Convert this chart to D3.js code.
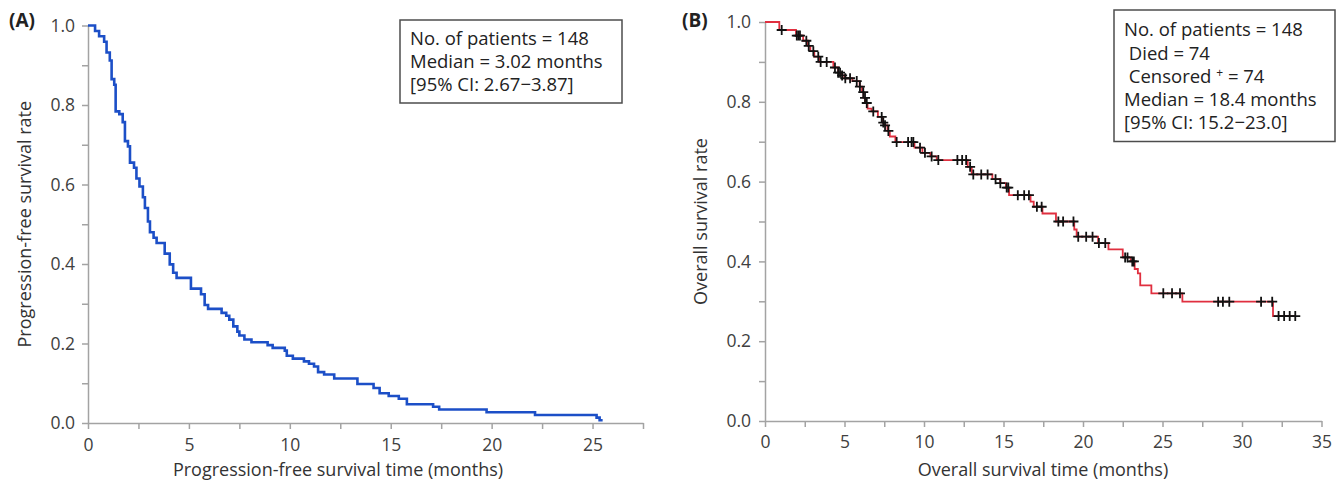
<!DOCTYPE html>
<html>
<head>
<meta charset="utf-8">
<script src="https://d3js.org/d3.v7.min.js"></script>
<style>
  body { margin: 0; background: #fff; }
  svg text { font-family: "Open Sans", "Noto Sans", sans-serif; }
</style>
</head>
<body>
<script>
'use strict';

// (A) progression-free survival: step times (months) and survival after each step
const pfsTimes = [0, 0.35, 0.55, 0.8, 0.92, 1.08, 1.17, 1.3, 1.37, 1.55, 1.72, 1.83, 1.98, 2.08, 2.28,
  2.4, 2.55, 2.72, 2.82, 2.97, 3.07, 3.25, 3.4, 3.8, 4.05, 4.22, 4.39, 5.1, 5.6, 5.78,
  5.95, 6.62, 6.85, 7.0, 7.2, 7.4, 7.5, 7.75, 8.1, 8.9, 9.15, 9.75, 9.85, 10.15, 10.7,
  10.95, 11.2, 11.4, 11.7, 12.2, 13.35, 14.15, 14.45, 14.9, 15.4, 15.8, 17.1, 17.4, 19.75, 22.15,
  25.2, 25.35, 25.5];
const pfsSurvival = [1.0, 0.986, 0.973, 0.959, 0.932, 0.912, 0.865, 0.851, 0.784, 0.777, 0.757, 0.709, 0.696, 0.655, 0.642,
  0.615, 0.595, 0.568, 0.541, 0.507, 0.48, 0.466, 0.453, 0.426, 0.399, 0.378, 0.365, 0.338, 0.324, 0.297,
  0.287, 0.277, 0.27, 0.26, 0.243, 0.23, 0.22, 0.21, 0.203, 0.196, 0.189, 0.182, 0.169, 0.162, 0.155,
  0.149, 0.142, 0.128, 0.122, 0.112, 0.098, 0.088, 0.075, 0.068, 0.061, 0.047, 0.041, 0.034, 0.027, 0.02,
  0.0135, 0.007, 0.007];

// (B) overall survival
const osTimes = [0, 0.9, 1.95, 2.4, 2.7, 2.85, 3.1, 3.4, 4.3, 4.6, 4.8, 5.0, 5.5, 5.95, 6.1,
  6.2, 6.3, 6.45, 6.7, 7.1, 7.4, 7.5, 7.7, 7.85, 8.2, 9.4, 9.9, 10.4, 10.8, 12.75,
  13.0, 14.3, 14.8, 15.15, 15.35, 16.7, 16.9, 17.45, 18.3, 19.45, 19.6, 20.95, 21.6, 22.5, 23.0,
  23.25, 23.45, 23.6, 24.3, 26.25, 31.95, 33.4];
const osSurvival = [1.0, 0.98, 0.966, 0.953, 0.94, 0.927, 0.913, 0.9, 0.886, 0.873, 0.866, 0.859, 0.852, 0.838, 0.824,
  0.81, 0.797, 0.783, 0.776, 0.762, 0.748, 0.741, 0.727, 0.713, 0.699, 0.685, 0.672, 0.663, 0.654, 0.637,
  0.618, 0.606, 0.596, 0.585, 0.566, 0.55, 0.537, 0.52, 0.5, 0.48, 0.462, 0.446, 0.43, 0.41, 0.4,
  0.381, 0.37, 0.34, 0.32, 0.299, 0.263, 0.263];
// censored patients (months)
const osCensorTimes = [1.05, 2.0, 2.1, 2.2, 2.6, 2.75, 3.04, 3.35, 3.5, 3.88, 4.4, 4.6, 4.72, 4.85, 5.05,
  5.35, 5.77, 5.97, 6.18, 6.29, 6.4, 6.81, 7.34, 7.44, 7.55, 7.76, 8.28, 9.0, 9.22, 9.33,
  9.75, 10.06, 10.48, 10.9, 12.1, 12.4, 12.65, 12.9, 13.1, 13.6, 14.0, 14.5, 14.8, 15.2, 15.3,
  15.9, 16.3, 16.6, 17.1, 17.4, 18.45, 18.75, 19.4, 19.7, 20.2, 20.6, 21.0, 21.4, 22.65, 22.8,
  23.1, 23.2, 25.05, 25.6, 26.1, 28.5, 28.8, 29.2, 31.2, 31.9, 32.3, 32.65, 33.0, 33.35];

// tick labels
const pfsXLabels = [0, 5, 10, 15, 20, 25];
const osXLabels = [0, 5, 10, 15, 20, 25, 30, 35];
const yLabels = ['0.0', '0.2', '0.4', '0.6', '0.8', '1.0'];

// legend text
const pfsLegend = ['No. of patients = 148', 'Median = 3.02 months', '[95% CI: 2.67\u22123.87]'];
const osLegend = ['No. of patients = 148', ' Died = 74', ' Censored \u207A = 74', 'Median = 18.4 months', '[95% CI: 15.2\u221223.0]'];

(function() {

  let svgContainer = '';
  const axisColor = '#a3a3a3';

  window.onload = function() {
    svgContainer = d3.select('body')
      .append('svg')
      .attr('width', 1344)
      .attr('height', 481);

    // panel A
    const xA = d3.scaleLinear().domain([0, 27.5]).range([88, 643]);
    const yA = d3.scaleLinear().domain([0, 1]).range([423, 25.5]);
    drawAxes(xA, yA, pfsXLabels, 10, 7);
    plotCurve(xA, yA, pfsTimes, pfsSurvival, '#1c4fc7', 2.6);
    makeLegend(pfsLegend, 400, 20, 222, 83, 410, 44.5);
    makeLabels(xA, yA, '(A)', 9, 'Progression-free survival rate', 31,
      'Progression-free survival time (months)', 338);

    // panel B
    const xB = d3.scaleLinear().domain([0, 35]).range([765, 1321.5]);
    const yB = d3.scaleLinear().domain([0, 1]).range([421, 22]);
    drawAxes(xB, yB, osXLabels, 9, 8);
    plotCurve(xB, yB, osTimes, osSurvival, '#e02f3f', 1.8);
    plotCensors(xB, yB);
    makeLegend(osLegend, 1114, 10, 221, 131.5, 1124, 36.2);
    makeLabels(xB, yB, '(B)', 682, 'Overall survival rate', 707,
      'Overall survival time (months)', 1043);
  }

  // axes with minor ticks at 2.5 months and 0.1
  function drawAxes(x, y, xLabels, xPad, yPad) {
    const xTicks = d3.range(0, x.domain()[1] + 0.01, 2.5);
    const xAxis = d3.axisBottom(x)
      .tickValues(xTicks)
      .tickSize(6)
      .tickSizeOuter(0)
      .tickPadding(xPad)
      .tickFormat((d) => xLabels.includes(d) ? d : '');
    const gx = svgContainer.append('g')
      .attr('transform', 'translate(0,' + y(0) + ')')
      .call(xAxis);

    const yAxis = d3.axisLeft(y)
      .tickValues(d3.range(0, 1.001, 0.1))
      .tickSize(6)
      .tickSizeOuter(0)
      .tickPadding(yPad)
      .tickFormat((d) => {
        const s = d3.format('.1f')(d);
        return yLabels.includes(s) ? s : '';
      });
    const gy = svgContainer.append('g')
      .attr('transform', 'translate(' + x(0) + ',0)')
      .call(yAxis);

    [gx, gy].forEach((g) => {
      g.attr('font-size', 17.5).attr('font-family', '"Open Sans", sans-serif');
      g.select('.domain').attr('stroke', axisColor).attr('stroke-width', 1.5);
      g.selectAll('.tick line').attr('stroke', axisColor).attr('stroke-width', 1.5);
      g.selectAll('.tick text').attr('fill', '#404040');
    });
  }

  // Kaplan-Meier step line
  function plotCurve(x, y, times, surv, color, width) {
    const line = d3.line()
      .x((d) => x(d[0]))
      .y((d) => y(d[1]))
      .curve(d3.curveStepAfter);
    svgContainer.append('path')
      .datum(d3.zip(times, surv))
      .attr('d', line)
      .attr('fill', 'none')
      .attr('stroke', color)
      .attr('stroke-width', width);
  }

  // + marks for censored patients, placed on the curve
  function plotCensors(x, y) {
    const survivalAt = (t) => osSurvival[d3.bisectRight(osTimes, t) - 1];
    const h = 5;
    svgContainer.selectAll('.censor')
      .data(osCensorTimes)
      .enter()
      .append('path')
      .attr('class', 'censor')
      .attr('d', (t) => {
        const cx = x(t), cy = y(survivalAt(t));
        return 'M' + (cx - h) + ',' + cy + 'h' + (2 * h) + 'M' + cx + ',' + (cy - h) + 'v' + (2 * h);
      })
      .attr('stroke', '#111')
      .attr('stroke-width', 1.8);
  }

  // boxed summary text
  function makeLegend(lines, bx, by, bw, bh, tx, ty) {
    svgContainer.append('rect')
      .attr('x', bx)
      .attr('y', by)
      .attr('width', bw)
      .attr('height', bh)
      .attr('fill', '#fff')
      .attr('stroke', '#4d4d4d')
      .attr('stroke-width', 1.5);

    lines.forEach((line, i) => {
      const t = svgContainer.append('text')
        .attr('x', tx)
        .attr('y', ty + i * 23.3)
        .style('font-size', '18.5px')
        .style('white-space', 'pre')
        .attr('fill', '#222');
      const parts = line.split('\u207A');
      t.append('tspan').text(parts[0]);
      if (parts.length > 1) {
        t.append('tspan').style('font-size', '12px').attr('dy', -6).text('+');
        t.append('tspan').attr('dy', 6).text(parts[1]);
      }
    });
  }

  // panel letter and axis titles
  function makeLabels(x, y, letter, lx, yTitle, yTitleX, xTitle, xTitleX) {
    svgContainer.append('text')
      .attr('x', lx)
      .attr('y', 27)
      .style('font-size', '19px')
      .style('font-weight', 'bold')
      .attr('fill', '#222')
      .text(letter);

    svgContainer.append('text')
      .attr('transform', 'translate(' + yTitleX + ',' + ((y(0) + y(1)) / 2) + ')rotate(-90)')
      .attr('text-anchor', 'middle')
      .style('font-size', '18px')
      .attr('fill', '#333')
      .text(yTitle);

    svgContainer.append('text')
      .attr('x', xTitleX)
      .attr('y', 475.5)
      .attr('text-anchor', 'middle')
      .style('font-size', '18px')
      .attr('fill', '#333')
      .text(xTitle);
  }

})();
</script>
</body>
</html>
